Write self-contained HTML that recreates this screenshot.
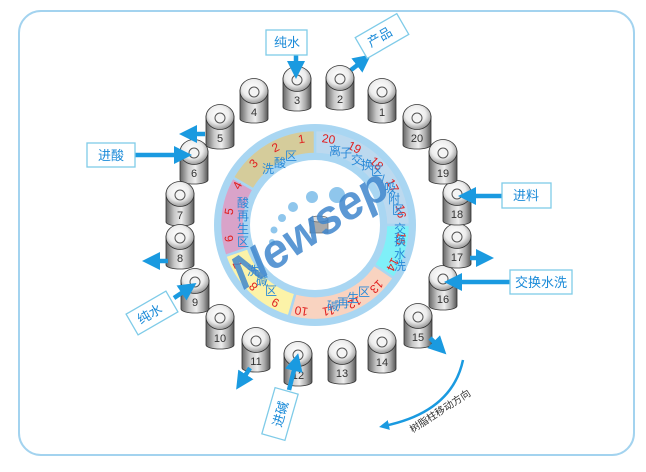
<!DOCTYPE html>
<html><head><meta charset="utf-8"><style>
html,body{margin:0;padding:0;background:#fff;}
svg{display:block;}
text{font-family:"Liberation Sans","Noto Sans CJK SC",sans-serif;}
</style></head><body>
<svg width="646" height="472" viewBox="0 0 646 472" xmlns="http://www.w3.org/2000/svg">
<defs>
<linearGradient id="bg" x1="0" x2="1" y1="0" y2="0">
<stop offset="0" stop-color="#666"/><stop offset="0.3" stop-color="#c8c8c8"/><stop offset="0.55" stop-color="#eeeeee"/><stop offset="0.8" stop-color="#a8a8a8"/><stop offset="1" stop-color="#555"/>
</linearGradient>
<radialGradient id="cg" cx="0.45" cy="0.4" r="0.6">
<stop offset="0" stop-color="#fff"/><stop offset="0.6" stop-color="#ededed"/><stop offset="1" stop-color="#999"/>
</radialGradient>
<g id="col">
<path d="M-14,-2 L-14,27 A14,4 0 0 0 14,27 L14,-2 Z" fill="url(#bg)" stroke="#333" stroke-width="0.8"/>
<ellipse cx="0" cy="-1" rx="14" ry="12.5" fill="url(#cg)" stroke="#333" stroke-width="0.8"/>
<circle cx="0" cy="0" r="5" fill="#f4f4f4" stroke="#555" stroke-width="1"/>
</g>
<marker id="ah" markerWidth="4" markerHeight="4" refX="2" refY="2" orient="auto" markerUnits="strokeWidth">
<path d="M0,0 L4,2 L0,4 Z" fill="#1a9ae0"/>
</marker>
</defs>

<rect x="19" y="11" width="615" height="444" rx="22" fill="none" stroke="#a3d3ef" stroke-width="2"/>

<circle cx="315" cy="225" r="101" fill="#a9d6f2"/>
<g transform="translate(315,225)" stroke="#a9d6f2" stroke-width="2.5">
<path d="M0,-95 A95,95 0 0 1 95,0 L71,0 A71,71 0 0 0 0,-71Z" fill="#bcd9ef"/>
<path d="M95,0 A95,95 0 0 1 78.8,53.1 L58.9,39.7 A71,71 0 0 0 71,0Z" fill="#7ff0f8"/>
<path d="M78.8,53.1 A95,95 0 0 1 -26.2,91.3 L-19.6,68.2 A71,71 0 0 0 58.9,39.7Z" fill="#f9d3c0"/>
<path d="M-26.2,91.3 A95,95 0 0 1 -89.8,30.9 L-67.1,23.1 A71,71 0 0 0 -19.6,68.2Z" fill="#fcf3a8"/>
<path d="M-89.8,30.9 A95,95 0 0 1 -82.3,-47.5 L-61.5,-35.5 A71,71 0 0 0 -67.1,23.1Z" fill="#d9a3c9"/>
<path d="M-82.3,-47.5 A95,95 0 0 1 0,-95 L0,-71 A71,71 0 0 0 -61.5,-35.5Z" fill="#d5cc9b"/>
</g>
<circle cx="315" cy="225" r="65" fill="#fff"/>

<g fill="#e02020" font-size="12" text-anchor="middle">
<text transform="translate(315,225) rotate(-9) translate(0,-83)">1</text>
<text transform="translate(315,225) rotate(-27) translate(0,-83)">2</text>
<text transform="translate(315,225) rotate(-45) translate(0,-83)">3</text>
<text transform="translate(315,225) rotate(-63) translate(0,-83)">4</text>
<text transform="translate(315,225) rotate(-81) translate(0,-83)">5</text>
<text transform="translate(315,225) rotate(-99) translate(0,-83)">6</text>
<text transform="translate(315,225) rotate(-117) translate(0,-83)">7</text>
<text transform="translate(315,225) rotate(-135) translate(0,-83)">8</text>
<text transform="translate(315,225) rotate(-153) translate(0,-83)">9</text>
<text transform="translate(315,225) rotate(-171) translate(0,-83)">10</text>
<text transform="translate(315,225) rotate(-189) translate(0,-83)">11</text>
<text transform="translate(315,225) rotate(-207) translate(0,-83)">12</text>
<text transform="translate(315,225) rotate(-225) translate(0,-83)">13</text>
<text transform="translate(315,225) rotate(-243) translate(0,-83)">14</text>
<text transform="translate(315,225) rotate(-261) translate(0,-83)">15</text>
<text transform="translate(315,225) rotate(-279) translate(0,-83)">16</text>
<text transform="translate(315,225) rotate(-297) translate(0,-83)">17</text>
<text transform="translate(315,225) rotate(-315) translate(0,-83)">18</text>
<text transform="translate(315,225) rotate(-333) translate(0,-83)">19</text>
<text transform="translate(315,225) rotate(-351) translate(0,-83)">20</text>
</g>

<g fill="#2a8ad8" font-size="12" text-anchor="middle">
<text x="268" y="173">洗</text><text x="280" y="167">酸</text><text x="291" y="160">区</text>
<text x="335" y="155">离</text><text x="346" y="157">子</text><text x="357" y="164">交</text><text x="367" y="169">换</text><text x="377" y="175">区</text><text x="383" y="183">/</text><text x="390" y="192">吸</text><text x="394" y="203">附</text><text x="398" y="214">区</text>
<text x="400" y="233">交</text><text x="400" y="245">换</text><text x="400" y="258">水</text><text x="400" y="270">洗</text>
<text x="333" y="310">碱</text><text x="343" y="307">再</text><text x="353" y="302">生</text><text x="364" y="296">区</text>
<text x="253" y="275">洗</text><text x="262" y="285">碱</text><text x="271" y="295">区</text>
<text x="243" y="207">酸</text><text x="243" y="220">再</text><text x="243" y="233">生</text><text x="243" y="246">区</text>
</g>

<g fill="#8fc6ec">
<circle cx="272" cy="242" r="3"/><circle cx="274" cy="230" r="3.5"/><circle cx="282" cy="218" r="4"/><circle cx="293" cy="207" r="5"/><circle cx="312" cy="197" r="6"/><circle cx="337" cy="195" r="8"/>
</g>
<g transform="translate(319,227)">
<rect x="-9" y="-8" width="18" height="14" fill="#aaa" stroke="#666" stroke-width="0.7"/>
<ellipse cx="0" cy="-8" rx="9" ry="3" fill="#ddd" stroke="#666" stroke-width="0.7"/>
</g>
<text x="0" y="0" transform="translate(318,242) rotate(-33)" font-size="47" font-weight="bold" font-style="italic" fill="#3f86cc" fill-opacity="0.85" text-anchor="middle">Newsep</text>

<use href="#col" x="382" y="92"/><use href="#col" x="340" y="79"/><use href="#col" x="297" y="80"/><use href="#col" x="254" y="92"/><use href="#col" x="220" y="118"/>
<use href="#col" x="194" y="153"/><use href="#col" x="180" y="195"/><use href="#col" x="180" y="238"/><use href="#col" x="195" y="282"/><use href="#col" x="220" y="318"/>
<use href="#col" x="256" y="341"/><use href="#col" x="298" y="355"/><use href="#col" x="342" y="353"/><use href="#col" x="382" y="342"/><use href="#col" x="418" y="317"/>
<use href="#col" x="443" y="279"/><use href="#col" x="457" y="237"/><use href="#col" x="457" y="194"/><use href="#col" x="443" y="153"/><use href="#col" x="417" y="118"/>
<g fill="#333" font-size="11" text-anchor="middle">
<text x="382" y="116">1</text><text x="340" y="103">2</text><text x="297" y="104">3</text><text x="254" y="116">4</text><text x="220" y="142">5</text>
<text x="194" y="177">6</text><text x="180" y="219">7</text><text x="180" y="262">8</text><text x="195" y="306">9</text><text x="220" y="342">10</text>
<text x="256" y="365">11</text><text x="298" y="379">12</text><text x="342" y="377">13</text><text x="382" y="366">14</text><text x="418" y="341">15</text>
<text x="443" y="303">16</text><text x="457" y="261">17</text><text x="457" y="218">18</text><text x="443" y="177">19</text><text x="417" y="142">20</text>
</g>

<g stroke="#1a9ae0" stroke-width="4.5" fill="none" marker-end="url(#ah)">
<line x1="296" y1="55" x2="296" y2="70"/>
<line x1="351" y1="70" x2="364" y2="60"/>
<line x1="135" y1="155" x2="183" y2="155"/>
<line x1="205" y1="134" x2="188" y2="134"/>
<line x1="168" y1="261" x2="151" y2="261"/>
<line x1="174" y1="298" x2="189" y2="288"/>
<line x1="502" y1="196" x2="467" y2="196"/>
<line x1="470" y1="258" x2="485" y2="258"/>
<line x1="510" y1="282" x2="453" y2="282"/>
<line x1="430" y1="338" x2="440" y2="348"/>
<line x1="250" y1="368" x2="241" y2="382"/>
<line x1="289" y1="390" x2="296" y2="362"/>
</g>
<path d="M463,360 Q452,412 384,426" stroke="#1a9ae0" stroke-width="2.5" fill="none" marker-end="url(#ah)"/>
<text transform="translate(442,414) rotate(-33)" font-size="10" fill="#333" text-anchor="middle">树脂柱移动方向</text>

<g fill="#fff" stroke="#7fcbe8" stroke-width="1.3">
<rect x="266" y="30" width="41" height="25"/>
<rect x="-24" y="-12" width="48" height="24" transform="translate(382,36) rotate(-30)"/>
<rect x="87" y="143" width="48" height="24"/>
<rect x="-23" y="-12" width="46" height="24" transform="translate(152,313) rotate(-30)"/>
<rect x="502" y="183" width="49" height="25"/>
<rect x="510" y="270" width="62" height="24"/>
<rect x="-24" y="-12" width="48" height="24" transform="translate(280,414) rotate(-74)"/>
</g>
<g fill="#1a8ad8" font-size="13" text-anchor="middle">
<text x="287" y="47">纯水</text>
<text transform="translate(382,41) rotate(-30)">产品</text>
<text x="111" y="160">进酸</text>
<text transform="translate(152,318) rotate(-30)">纯水</text>
<text x="526" y="200">进料</text>
<text x="541" y="287">交换水洗</text>
<text transform="translate(280,414) rotate(-74) translate(0,5)">进碱</text>
</g>
</svg>
</body></html>
